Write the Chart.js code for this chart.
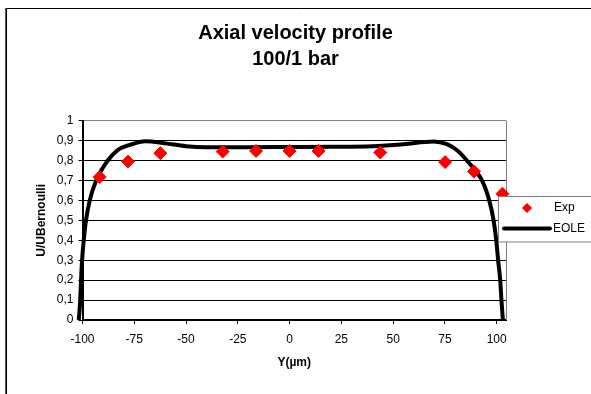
<!DOCTYPE html>
<html><head><meta charset="utf-8">
<script src="https://cdn.jsdelivr.net/npm/chart.js@4/dist/chart.umd.min.js"></script>
<style>html,body{margin:0;padding:0;background:#fff;overflow:hidden}#wrap{position:relative;width:591px;height:394px}canvas{display:block}</style>
</head><body><div id="wrap"><canvas id="c" width="591" height="394"></canvas></div>
<script>
const titleLines = ['Axial velocity profile', '100/1 bar'];
const xAxisTitle = 'Y(µm)';
const yAxisTitle = 'U/UBernoulli';
const legendLabels = ['Exp', 'EOLE'];
const xTickValues = [-100, -75, -50, -25, 0, 25, 50, 75, 100];
const yTickValues = [0, 0.1, 0.2, 0.3, 0.4, 0.5, 0.6, 0.7, 0.8, 0.9, 1];
const xMin = -100;
const xMax = 104.5;

const expX = [-91.7, -78, -62.4, -32.3, -16.2, 0, 14, 43.8, 75.1, 89.1, 102.8];
const expY = [0.717, 0.795, 0.837, 0.845, 0.848, 0.848, 0.848, 0.840, 0.792, 0.745, 0.633];

const eoleX = [-101.8, -101.1, -100.7, -100.2, -99.4, -98.3, -96.5, -93.4, -87.8, -83.3, -77, -69.5, -60, -50, -40, -20, 0, 20, 40, 55, 69.5, 76, 81, 85.6, 92.9, 96.4, 98.5, 99.8, 100.7, 101.7, 102.3, 103];
const eoleY = [0, 0.1, 0.2, 0.3, 0.4, 0.5, 0.6, 0.7, 0.8, 0.85, 0.879, 0.897, 0.886, 0.872, 0.867, 0.867, 0.868, 0.869, 0.872, 0.882, 0.896, 0.882, 0.85, 0.8, 0.7, 0.6, 0.5, 0.4, 0.3, 0.2, 0.1, 0];

const FONT = '"Liberation Sans", Arial, sans-serif';

const framePlugin = {
  id: 'frame',
  beforeDatasetsDraw(chart) {
    const {ctx, chartArea: a} = chart;
    ctx.save();
    ctx.strokeStyle = '#808080';
    ctx.lineWidth = 1;
    ctx.beginPath();
    ctx.moveTo(Math.round(a.right) + 0.5, a.top);
    ctx.lineTo(Math.round(a.right) + 0.5, a.bottom);
    ctx.stroke();
    ctx.restore();
  },
  afterDraw(chart) {
    const ctx = chart.ctx;
    ctx.save();
    ctx.strokeStyle = '#000';
    ctx.lineWidth = 1;
    ctx.beginPath();
    ctx.moveTo(6.5, 400); ctx.lineTo(6.5, 8.5); ctx.lineTo(600, 8.5);
    ctx.stroke();
    ctx.strokeStyle = '#555';
    ctx.beginPath();
    ctx.moveTo(5.5, 400); ctx.lineTo(5.5, 8);
    ctx.stroke();
    ctx.fillStyle = '#fff';
    ctx.fillRect(498.5, 196.5, 110, 45.5);
    ctx.strokeStyle = '#808080';
    ctx.strokeRect(498.5, 196.5, 110, 45.5);
    ctx.fillStyle = '#ff0000';
    ctx.beginPath();
    ctx.moveTo(527, 203); ctx.lineTo(532, 208); ctx.lineTo(527, 213); ctx.lineTo(522, 208);
    ctx.closePath(); ctx.fill();
    ctx.strokeStyle = '#000';
    ctx.lineWidth = 4;
    ctx.lineCap = 'round';
    ctx.beginPath();
    ctx.moveTo(504, 228.5); ctx.lineTo(550, 228.5);
    ctx.stroke();
    ctx.fillStyle = '#000';
    ctx.font = '12px ' + FONT;
    ctx.textBaseline = 'middle';
    ctx.textAlign = 'left';
    ctx.fillText(legendLabels[0], 554, 208);
    ctx.fillText(legendLabels[1], 553, 228.5);
    ctx.restore();
  }
};

function fmtY(v) {
  const r = Math.round(v * 10) / 10;
  if (r === 0) return '0';
  if (r === 1) return '1';
  return r.toFixed(1).replace('.', ',');
}

new Chart(document.getElementById('c'), {
  type: 'scatter',
  data: {
    datasets: [
      {
        label: legendLabels[0],
        data: expX.map((x, i) => ({x: x, y: expY[i]})),
        pointStyle: 'rectRot',
        pointRadius: 6.5,
        backgroundColor: '#ff0000',
        borderColor: '#ff0000',
        borderWidth: 1,
        showLine: false,
        clip: false
      },
      {
        label: legendLabels[1],
        data: eoleX.map((x, i) => ({x: x, y: eoleY[i]})),
        showLine: true,
        borderColor: '#000',
        borderWidth: 4,
        pointRadius: 0,
        cubicInterpolationMode: 'monotone',
        fill: false,
        clip: false
      }
    ]
  },
  options: {
    responsive: false,
    animation: false,
    devicePixelRatio: 1,
    layout: {padding: {left: 30.8, right: 30.8, top: 0, bottom: 20}},
    plugins: {
      legend: {display: false},
      tooltip: {enabled: false},
      title: {
        display: true,
        text: titleLines,
        color: '#000',
        font: {family: FONT, size: 20, weight: 'bold', lineHeight: 1.335},
        padding: {top: 19.75, bottom: 47.5}
      }
    },
    scales: {
      x: {
        type: 'linear',
        bounds: 'data',
        afterDataLimits: s => { s.min = xMin; s.max = xMax; },
        afterBuildTicks: s => { s.min = xMin; s.max = xMax; s.ticks = xTickValues.map(v => ({value: v})); },
        afterFit: s => { s.height = 54; },
        ticks: {color: '#000', font: {family: FONT, size: 12}, padding: 8, maxRotation: 0, autoSkip: false},
        grid: {drawOnChartArea: false, drawTicks: true, tickLength: 4, tickColor: '#000', tickWidth: 1},
        border: {color: '#000', width: 2},
        title: {display: true, text: xAxisTitle, color: '#000', font: {family: FONT, size: 12, weight: 'bold'}, padding: {top: 4, bottom: 4}}
      },
      y: {
        type: 'linear',
        position: 'left',
        min: 0,
        max: 1,
        afterBuildTicks: s => { s.ticks = yTickValues.map(v => ({value: v})); },
        afterFit: s => { s.width = 51.7; },
        ticks: {color: '#000', font: {family: FONT, size: 12}, padding: 5, callback: v => fmtY(v), autoSkip: false},
        grid: {
          color: c => (c.tick && c.tick.value === 1 ? '#808080' : '#000'),
          lineWidth: 1,
          drawTicks: true,
          tickLength: 4,
          tickColor: '#000'
        },
        border: {color: '#000', width: 2},
        title: {display: true, text: yAxisTitle, color: '#000', font: {family: FONT, size: 12, weight: 'bold'}, padding: {top: 4, bottom: 4}}
      },
      y2: {
        type: 'linear',
        position: 'right',
        min: 0,
        max: 1,
        afterFit: s => { s.width = 54.2; },
        ticks: {display: false},
        grid: {drawOnChartArea: false, drawTicks: false},
        border: {display: false},
        title: {display: false}
      }
    }
  },
  plugins: [framePlugin]
});
</script>
</body></html>
